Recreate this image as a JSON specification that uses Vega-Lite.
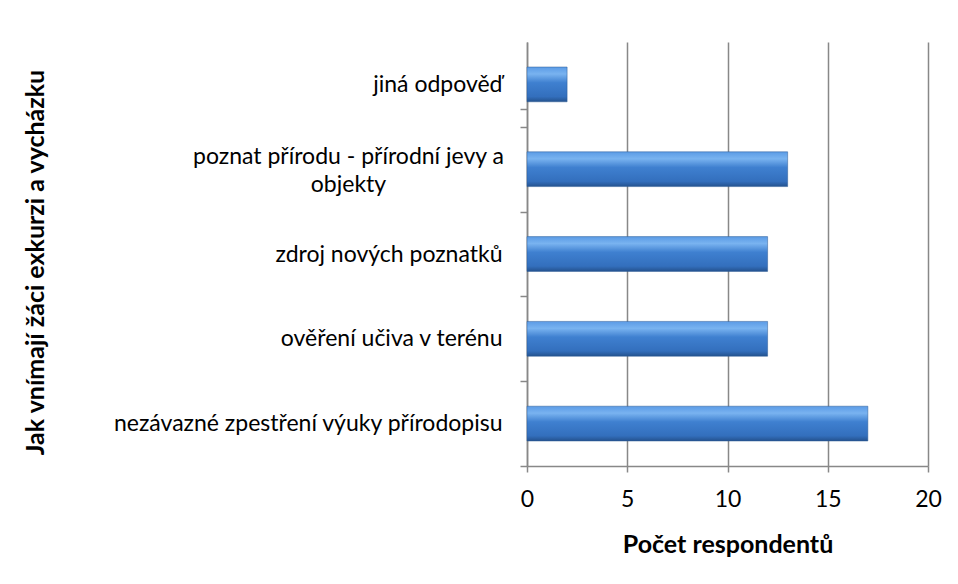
{
  "$schema": "https://vega.github.io/schema/vega-lite/v6.json",
  "width": 401,
  "height": 424,
  "autosize": {"type": "none"},
  "padding": {"left": 527, "top": 42, "right": 30, "bottom": 118},
  "background": "white",
  "config": {
    "view": {"stroke": null},
    "font": "Lato"
  },
  "data": {
    "values": [
      {"odpoved": "jiná odpověď", "pocet": 2},
      {"odpoved": "poznat přírodu - přírodní jevy a objekty", "pocet": 13},
      {"odpoved": "zdroj nových poznatků", "pocet": 12},
      {"odpoved": "ověření učiva v terénu", "pocet": 12},
      {"odpoved": "nezávazné zpestření výuky přírodopisu", "pocet": 17}
    ]
  },
  "mark": {
    "type": "bar",
    "stroke": "#2a5a95",
    "strokeWidth": 0.5,
    "color": {
      "gradient": "linear",
      "x1": 0, "y1": 0, "x2": 0, "y2": 1,
      "stops": [
        {"offset": 0, "color": "#5b9be6"},
        {"offset": 0.2, "color": "#79b3f0"},
        {"offset": 0.45, "color": "#3f80d0"},
        {"offset": 0.85, "color": "#336fbd"},
        {"offset": 1, "color": "#24528e"}
      ]
    }
  },
  "encoding": {
    "y": {
      "field": "odpoved",
      "type": "nominal",
      "sort": ["jiná odpověď", "poznat přírodu - přírodní jevy a objekty", "zdroj nových poznatků", "ověření učiva v terénu", "nezávazné zpestření výuky přírodopisu"],
      "scale": {"paddingInner": 0.59, "paddingOuter": 0.295},
      "axis": {
        "title": "Jak vnímají žáci exkurzi a vycházku",
        "titleFont": "Lato",
        "titleFontSize": 25,
        "titleFontWeight": "bold",
        "titleColor": "black",
        "titleX": -492,
        "titleY": 220,
        "titleAngle": -90,
        "titleAlign": "center",
        "titleBaseline": "middle",
        "labelFont": "Lato",
        "labelFontSize": 23,
        "labelColor": "black",
        "labelPadding": {
          "condition": {"test": "datum.value == 'poznat přírodu - přírodní jevy a objekty'", "value": 172},
          "value": 18
        },
        "labelAlign": {
          "condition": {"test": "datum.value == 'poznat přírodu - přírodní jevy a objekty'", "value": "center"},
          "value": "right"
        },
        "labelLimit": 600,
        "labelLineHeight": 28,
        "labelExpr": "datum.value == 'poznat přírodu - přírodní jevy a objekty' ? ['poznat přírodu - přírodní jevy a', 'objekty'] : datum.value",
        "tickOffset": 42.4,
        "labelOffset": {
          "condition": {"test": "datum.value == 'poznat přírodu - přírodní jevy a objekty'", "value": -55.4},
          "value": -42.4
        },
        "tickExtra": true,
        "tickSize": 7,
        "tickColor": "#888888",
        "tickWidth": 1.5,
        "domainColor": "#888888",
        "domainWidth": 1.5,
        "grid": false
      }
    },
    "x": {
      "field": "pocet",
      "type": "quantitative",
      "scale": {"domain": [0, 20]},
      "axis": {
        "title": "Počet respondentů",
        "titleFont": "Lato",
        "titleFontSize": 25,
        "titleFontWeight": "bold",
        "titleColor": "black",
        "titleY": 78,
        "titleBaseline": "middle",
        "values": [0, 5, 10, 15, 20],
        "labelFont": "Lato",
        "labelFontSize": 23,
        "labelColor": "black",
        "labelPadding": 16,
        "labelFlush": false,
        "tickSize": 6,
        "tickColor": "#888888",
        "tickWidth": 1.5,
        "domainColor": "#888888",
        "domainWidth": 1.5,
        "grid": true,
        "gridColor": "#888888",
        "gridWidth": 1.5
      }
    }
  }
}
